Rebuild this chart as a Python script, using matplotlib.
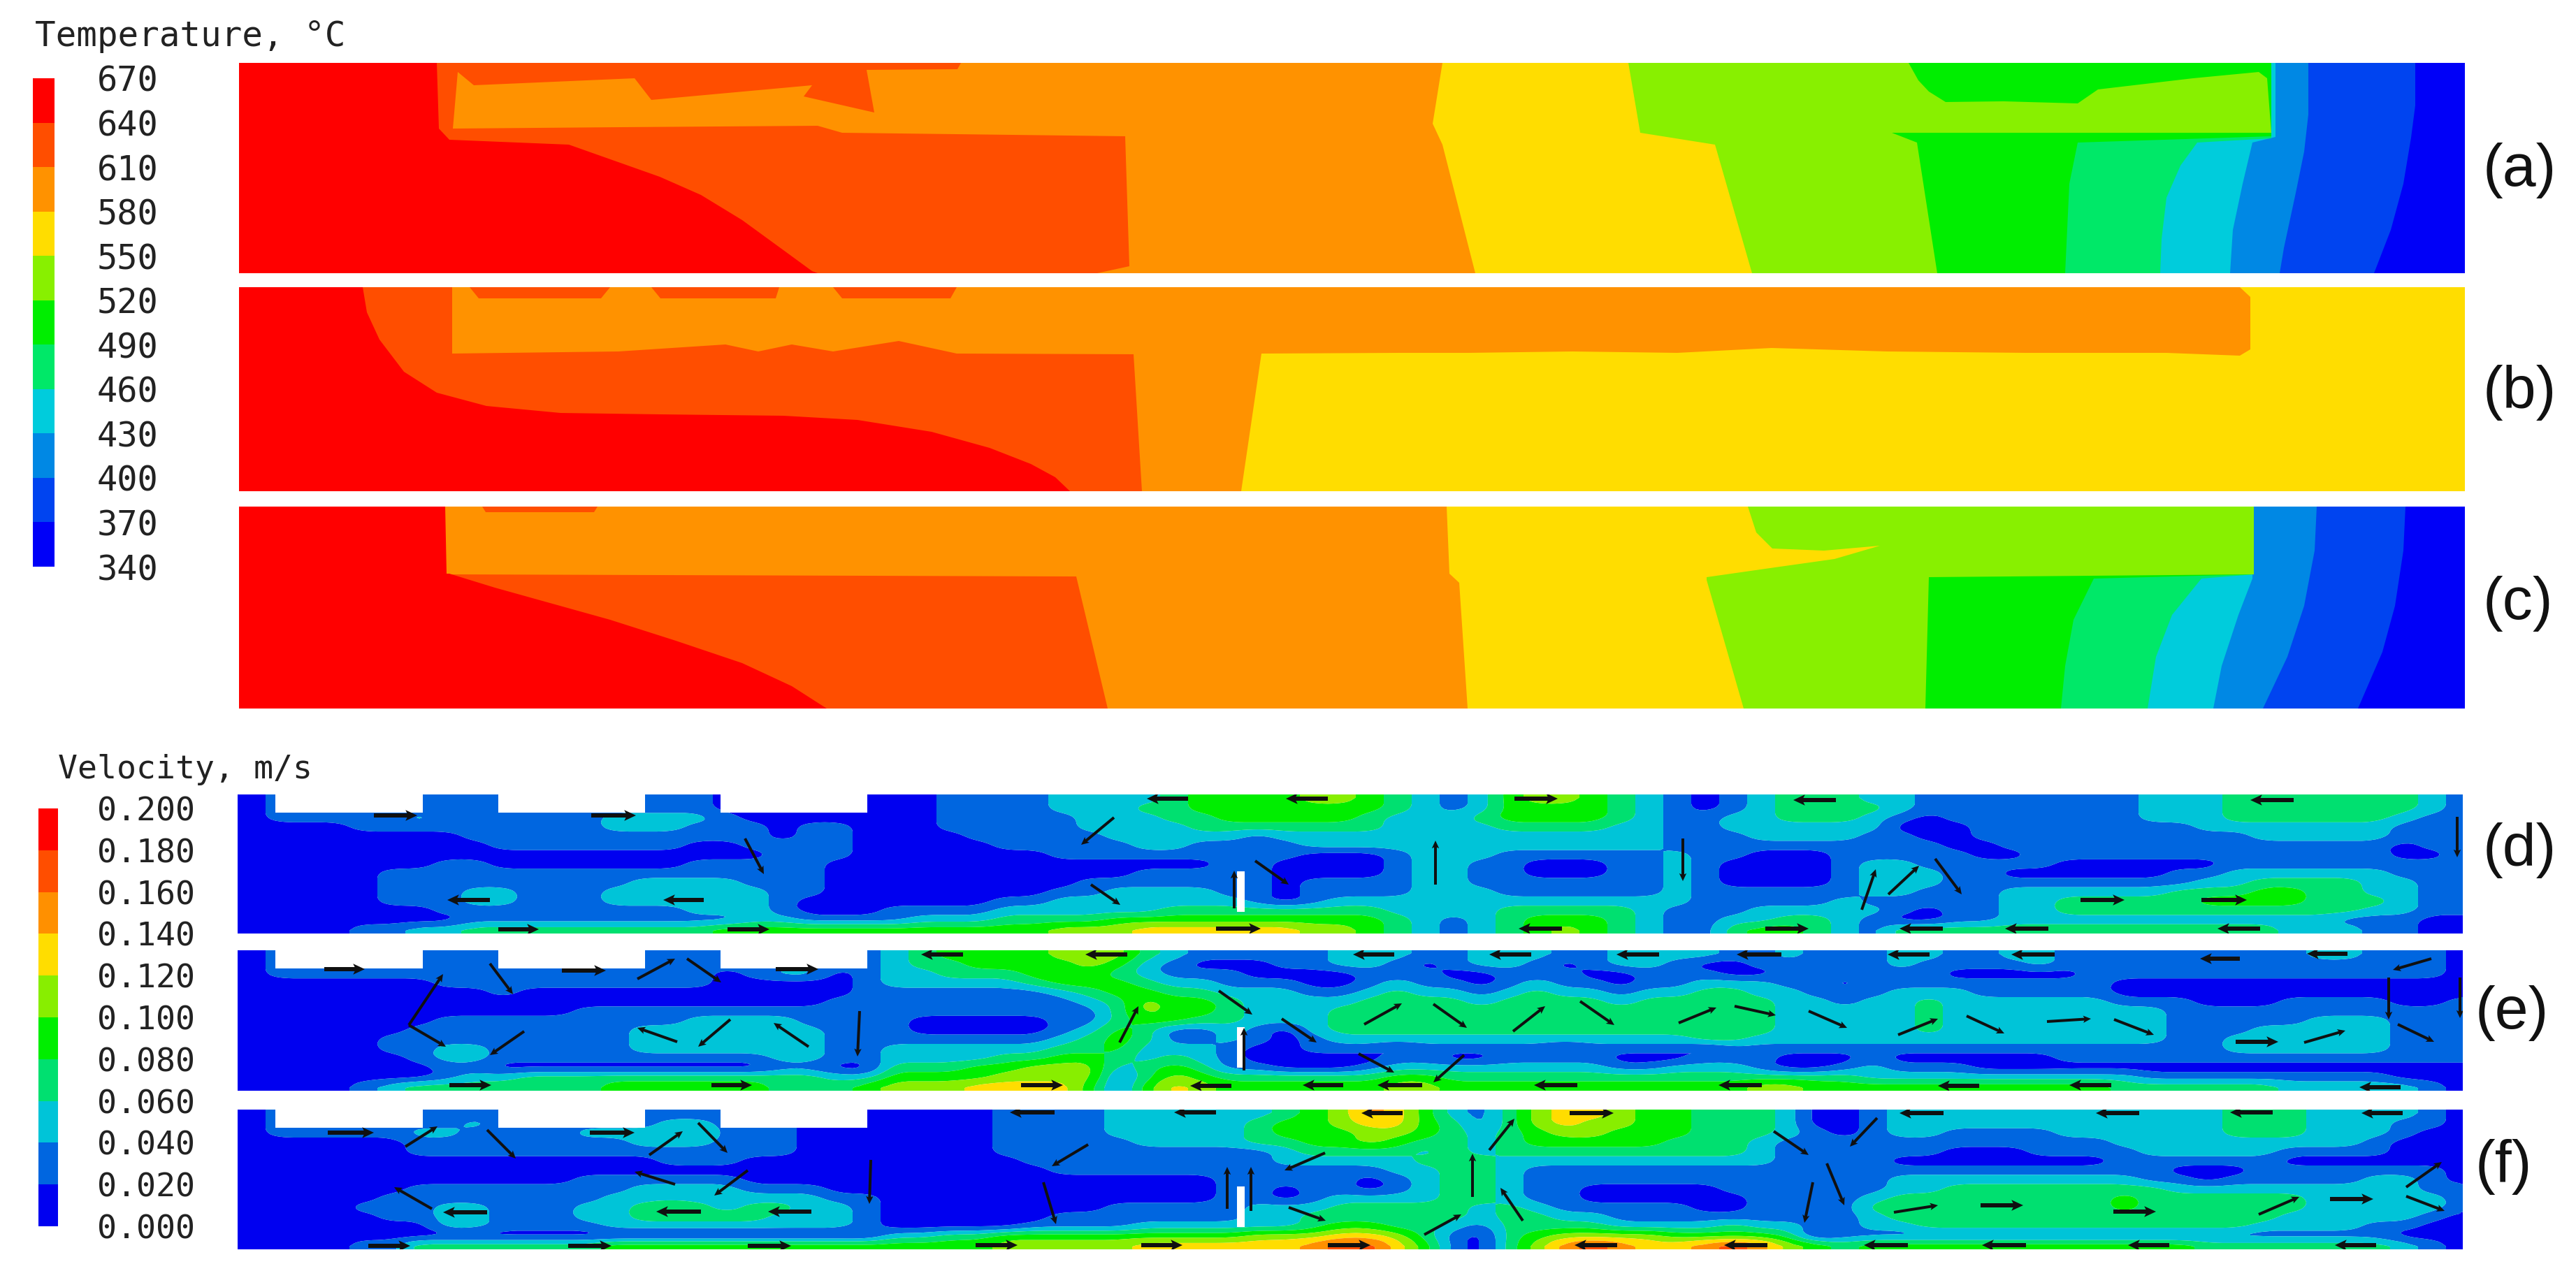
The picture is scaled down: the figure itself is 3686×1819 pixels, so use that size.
import numpy as np
import matplotlib
matplotlib.use("Agg")
import matplotlib.pyplot as plt

W, H = 3686, 1819

temp_ticks = [670, 640, 610, 580, 550, 520, 490, 460, 430, 400, 370, 340]
speed_ticks = ["0.200", "0.180", "0.160", "0.140", "0.120", "0.100", "0.080", "0.060", "0.040", "0.020", "0.000"]

# coolest band first
temp_colors = ["#0000f8", "#0044f0", "#0088e4", "#00ccdc", "#00e868", "#00ee00",
               "#88f000", "#ffdd00", "#ff9200", "#ff4e00", "#ff0000"]
speed_colors = ["#0000f0", "#0066e0", "#00c4d8", "#00e070", "#00ee00",
                "#88ee00", "#ffdd00", "#ff9000", "#ff4e00", "#ff0000"]

# temperature bands: (band index, outline, source pixels)
regions_a = [
    (1, [(342, 90), (3456, 90), (3456, 151), (3450, 197), (3439, 263), (3421, 329), (3397, 391), (342, 391)]),
    (2, [(342, 90), (3303, 90), (3303, 164), (3297, 217), (3285, 276), (3268, 355), (3262, 391), (342, 391)]),
    (3, [(342, 90), (3256, 90), (3256, 196), (3223, 204), (3209, 263), (3195, 329), (3191, 391), (342, 391)]),
    (4, [(342, 90), (3250, 90), (3250, 198), (3144, 204), (3120, 237), (3100, 283), (3093, 342), (3091, 391), (342, 391)]),
    (5, [(342, 90), (3250, 90), (3250, 195), (2973, 204), (2961, 263), (2955, 391), (342, 391)]),
    (6, [(342, 90), (2731, 90), (2745, 115), (2760, 131), (2784, 146), (2867, 145), (2973, 148), (3002, 128),
         (3138, 112), (3232, 103), (3244, 112), (3250, 190), (2707, 190), (2743, 204), (2772, 391), (342, 391)]),
    (7, [(342, 90), (2330, 90), (2347, 190), (2454, 207), (2507, 391), (342, 391)]),
    (8, [(342, 90), (2064, 90), (2050, 177), (2064, 207), (2111, 391), (342, 391)]),
    (9, [(342, 90), (1375, 90), (1370, 99), (1240, 100), (1251, 161), (1150, 138), (1162, 122), (932, 143),
         (908, 112), (678, 122), (655, 103), (648, 184), (890, 182), (1170, 180), (1205, 190), (1610, 195),
         (1616, 381), (1570, 391), (342, 391)]),
    (10, [(342, 90), (625, 90), (628, 184), (643, 200), (814, 207), (879, 230), (944, 253), (1003, 279),
          (1062, 315), (1121, 358), (1162, 388), (1170, 391), (342, 391)]),
]
regions_b = [
    (7, [(342, 411), (3527, 411), (3527, 703), (342, 703)]),
    (8, [(342, 411), (3205, 411), (3220, 425), (3220, 500), (3205, 509), (3100, 505), (2900, 505), (2700, 503),
         (2535, 498), (2400, 505), (2250, 503), (2100, 505), (2000, 505), (1805, 506), (1776, 703), (342, 703)]),
    (9, [(342, 411), (647, 411), (647, 506), (885, 503), (1038, 493), (1085, 503), (1133, 493), (1192, 503),
         (1286, 488), (1369, 506), (1622, 507), (1634, 703), (342, 703)]),
    (9, [(672, 411), (873, 411), (860, 427), (685, 427)]),
    (9, [(932, 411), (1115, 411), (1110, 427), (945, 427)]),
    (9, [(1192, 411), (1369, 411), (1360, 427), (1205, 427)]),
    (10, [(342, 411), (519, 411), (525, 447), (543, 486), (578, 532), (625, 562), (696, 581), (802, 591), (944, 593),
          (1121, 595), (1227, 601), (1333, 618), (1416, 641), (1475, 664), (1510, 683), (1531, 703), (342, 703)]),
]
regions_c = [
    (1, [(342, 725), (3442, 725), (3439, 788), (3427, 867), (3409, 933), (3374, 1014), (342, 1014)]),
    (2, [(342, 725), (3315, 725), (3312, 788), (3297, 867), (3273, 940), (3238, 1014), (342, 1014)]),
    (3, [(342, 725), (3225, 725), (3223, 828), (3203, 880), (3179, 953), (3167, 1014), (342, 1014)]),
    (4, [(342, 725), (3225, 725), (3225, 822), (3150, 828), (3108, 880), (3085, 940), (3073, 1014), (342, 1014)]),
    (5, [(342, 725), (3225, 725), (3225, 822), (2996, 828), (2967, 887), (2955, 953), (2949, 1014), (342, 1014)]),
    (6, [(342, 725), (3225, 725), (3225, 822), (2760, 826), (2755, 1014), (342, 1014)]),
    (7, [(342, 725), (2501, 725), (2513, 762), (2536, 785), (2610, 788), (2690, 781), (2625, 800), (2540, 812),
         (2442, 826), (2442, 830), (2495, 1014), (342, 1014)]),
    (8, [(342, 725), (2070, 725), (2074, 821), (2088, 834), (2100, 1014), (342, 1014)]),
    (9, [(342, 821), (1540, 825), (1585, 1014), (342, 1014)]),
    (9, [(690, 725), (855, 725), (850, 733), (695, 733)]),
    (10, [(342, 725), (637, 725), (639, 821), (643, 821), (708, 841), (873, 887), (967, 917), (1062, 949),
          (1133, 982), (1183, 1014), (342, 1014)]),
]

# velocity band index per cell, top row first, 40 source pixels per column
speed_d = [
    "0111111111 1111111000 0000011112 2223444455 4321245543 2101233322 1111111122 2333333321",
    "0111111111 1111111000 0000011112 2233444444 4321244443 2101233332 1111111122 2333333321",
    "0111112111 1112222100 0000011111 2223344444 3222344443 2112233321 0111111122 2333333211",
    "0000111111 1112221110 1100011111 2222333333 3222233332 2112222220 0011111111 2222222111",
    "0000000011 1111111110 1100001111 1222221222 2222222222 2111222211 0011111111 1122222111",
    "0000000001 1111110011 1100000111 1122111122 2222222222 2111111111 1001111111 1111111011",
    "0000000000 0000000001 1100000001 1111111100 0122211111 1211000111 1100111111 1111111001",
    "0000000110 0000001111 1000000000 0000011000 0122110001 1210000122 1111100000 0111111111",
    "0000011111 1111111111 1000000000 0011111000 0122110001 1210000122 2110000001 1222222111",
    "0000011111 1111222211 1000000000 1111111011 1122111111 1210000122 2111111111 2233332211",
    "0000011122 1112222221 1000000001 1222211011 1122211111 1211111122 1112222223 3344332211",
    "0000011122 1112222221 0000000112 2222221012 2222222222 2211111211 1112233333 4444333211",
    "0000000111 1111112221 0001111222 2223333333 3222233333 2111222221 0112233333 3333332211",
    "0000000011 1111111122 1111222333 3444444444 4321234443 2112233210 0112222222 2222211100",
    "0000112233 3333333444 4444444445 5566666655 4321234543 2113443213 3333333333 3332221100",
]
speed_e = [
    "0111111111 1111111111 1112344445 5532111112 2211222112 2221121112 2112211111 1111221110",
    "0111111111 1111111111 1112334444 5421000112 2101221012 2100111112 1111211111 1111111110",
    "0111111111 1111111012 2012233344 4321110000 1110011100 1110011111 1000001111 1111111110",
    "0000000111 1111111000 0012222234 4432211100 1211012110 1122211011 1111111000 0000000000",
    "0000000001 0000000000 0011111112 3443322211 2322123221 2233221112 2211111000 0000000000",
    "0000000000 0000000000 0111111111 2354432222 3333233332 3333322122 3222222111 0001111001",
    "0000000000 0011111111 1111111111 1354432223 3333333333 3333322222 3222222221 1111111111",
    "0000000111 1111112222 1011000001 1344332223 3333333333 3333322222 3222222221 1111222111",
    "0000001111 1111222222 2111000001 2431121023 3333333333 3333322222 3222222221 1122222111",
    "0000011111 1111222222 2111111112 3431121012 2222222222 2233222222 2222222221 1222222111",
    "0000011221 1111222222 2112222223 3422210011 1011111011 1101111111 1111111111 1222222111",
    "0000001221 1111111112 2112222334 4323210000 0110011110 0011100010 0000011111 1111111111",
    "0000000110 0000000001 1003334455 5234311000 1222222221 1222100121 1100000000 0000000000",
    "0000000122 3333333333 3224444555 5135433333 3443333333 3333333322 2222222211 1111111000",
    "0000123333 3334444443 3345556666 4146544444 4554444444 4444554444 4444444333 3332222210",
]
speed_f = [
    "0111111111 1111111111 0000000111 1222222345 7642135665 4433320012 2222222222 2333222210",
    "0111111121 1111122111 0000000111 1222223445 6643135655 4433320012 2222222222 2333222110",
    "0111112211 1122223111 0000000111 1222223444 5543234554 4433321012 2111122222 2333222100",
    "0000001111 1111222111 0000000111 1122223344 5433234444 4333211111 1111111222 2222221000",
    "0000001111 1111111111 0000000111 1111111233 3323233333 3333211111 1000111122 2221111000",
    "0000000000 0000011100 0000000011 1111111222 2233322222 2222211110 0000000111 1110000000",
    "0000000000 0000000000 0000000001 1111111111 1223321111 1111111111 1111111110 0011111110",
    "0000000000 0011111100 0000000000 0000011111 0123321111 1111111112 2222222211 0111112210",
    "0000001111 1111222211 1000000000 0000011011 0123321100 0001111112 2333333332 2222222211",
    "0000011111 1112222222 2110000000 0000011012 2223321100 0000111123 3333333433 3333222221",
    "0000111221 1122343233 2210000000 0111112223 3333232111 1100111133 3333333433 3333222221",
    "0000011221 1122333332 2210000001 1111112233 3333233221 1111111123 3333333333 3332222210",
    "0000000221 1112222222 2210000011 1122222234 4332133332 2223221122 3333333333 3322221100",
    "0000000000 0000000000 0002233444 4444445556 6531034555 5444430111 1111111111 1111111000",
    "0000113333 3334444444 4444444555 5566666678 8641035787 6678754344 4444444444 3333333210",
]

# arrows as (tail x, tail y, head x, head y) in source pixels
arrows_d = [
    (535, 1167, 597, 1167), (846, 1167, 910, 1167), (1066, 1200, 1093, 1251), (701, 1288, 640, 1288),
    (1007, 1288, 949, 1288), (713, 1330, 771, 1330), (1041, 1330, 1101, 1330), (1700, 1143, 1641, 1143),
    (1900, 1143, 1840, 1143), (2167, 1143, 2229, 1143), (1594, 1170, 1547, 1209), (1766, 1300, 1766, 1246),
    (1796, 1232, 1844, 1266), (1561, 1266, 1603, 1295), (2054, 1266, 2054, 1203), (2408, 1200, 2408, 1261),
    (1740, 1329, 1804, 1329), (2235, 1329, 2173, 1329), (2627, 1145, 2566, 1145), (3282, 1145, 3220, 1145),
    (3516, 1169, 3516, 1227), (2664, 1302, 2684, 1244), (2702, 1280, 2746, 1239), (2769, 1229, 2807, 1280),
    (2977, 1288, 3040, 1288), (3150, 1288, 3215, 1288), (2526, 1329, 2588, 1329), (2780, 1329, 2718, 1329),
    (2931, 1329, 2869, 1329), (3234, 1329, 3173, 1329),
]
arrows_e = [
    (464, 1387, 522, 1387), (804, 1389, 867, 1389), (1110, 1387, 1171, 1387), (585, 1467, 634, 1394),
    (701, 1379, 734, 1423), (585, 1467, 638, 1498), (750, 1476, 701, 1510), (912, 1401, 966, 1372),
    (983, 1372, 1032, 1406), (969, 1491, 912, 1471), (1045, 1459, 999, 1498), (1157, 1498, 1107, 1464),
    (1230, 1447, 1227, 1512), (643, 1553, 703, 1553), (1018, 1553, 1076, 1553), (1378, 1366, 1318, 1366),
    (1613, 1366, 1553, 1366), (1995, 1366, 1936, 1366), (2191, 1366, 2131, 1366), (2374, 1366, 2313, 1366),
    (1602, 1492, 1629, 1440), (1744, 1418, 1792, 1452), (1834, 1458, 1884, 1492), (1780, 1532, 1780, 1471),
    (1952, 1466, 2006, 1436), (2051, 1437, 2099, 1471), (2165, 1476, 2211, 1440), (2261, 1433, 2310, 1467),
    (2402, 1464, 2456, 1442), (1944, 1508, 1995, 1535), (2095, 1510, 2051, 1549), (1461, 1553, 1521, 1553),
    (1762, 1554, 1703, 1554), (1922, 1553, 1864, 1553), (2035, 1553, 1971, 1553), (2257, 1553, 2195, 1553),
    (2549, 1366, 2485, 1366), (2761, 1366, 2701, 1366), (2940, 1366, 2878, 1366), (3205, 1372, 3148, 1372),
    (3359, 1365, 3301, 1365), (3479, 1372, 3424, 1388), (3418, 1399, 3418, 1459), (3520, 1399, 3520, 1457),
    (3431, 1466, 3483, 1491), (2482, 1440, 2541, 1453), (2588, 1447, 2643, 1471), (2716, 1481, 2773, 1458),
    (2814, 1454, 2868, 1479), (2929, 1462, 2992, 1458), (3025, 1459, 3082, 1481), (3199, 1491, 3260, 1491),
    (3297, 1492, 3356, 1475), (2521, 1553, 2459, 1553), (2832, 1554, 2773, 1554), (3021, 1553, 2961, 1553),
    (3435, 1556, 3376, 1556),
]
arrows_f = [
    (469, 1621, 535, 1621), (844, 1621, 908, 1621), (580, 1641, 626, 1612), (697, 1617, 738, 1658),
    (929, 1653, 977, 1619), (999, 1607, 1041, 1650), (966, 1695, 908, 1677), (1070, 1675, 1022, 1711),
    (1246, 1660, 1244, 1723), (618, 1730, 564, 1699), (697, 1735, 634, 1735), (1003, 1734, 939, 1734),
    (1161, 1734, 1099, 1734), (527, 1783, 587, 1783), (813, 1783, 875, 1783), (1070, 1783, 1132, 1783),
    (1509, 1592, 1445, 1592), (1740, 1592, 1680, 1592), (2007, 1593, 1948, 1593), (2246, 1593, 2309, 1593),
    (2131, 1646, 2167, 1601), (1557, 1638, 1505, 1669), (1896, 1650, 1838, 1675), (2107, 1713, 2107, 1651),
    (1756, 1730, 1756, 1670), (1790, 1733, 1790, 1670), (1493, 1692, 1511, 1752), (2179, 1747, 2147, 1700),
    (1844, 1728, 1897, 1747), (2038, 1767, 2091, 1738), (1396, 1782, 1456, 1782), (1633, 1782, 1692, 1782),
    (1900, 1782, 1961, 1782), (2314, 1782, 2253, 1782), (2529, 1782, 2467, 1782), (2781, 1593, 2718, 1593),
    (3061, 1593, 2999, 1593), (3252, 1592, 3191, 1592), (3438, 1593, 3379, 1593), (2686, 1600, 2647, 1641),
    (2538, 1619, 2588, 1653), (2614, 1665, 2639, 1725), (2594, 1692, 2582, 1750), (2710, 1735, 2773, 1725),
    (2834, 1725, 2895, 1725), (3024, 1734, 3085, 1734), (3232, 1738, 3290, 1713), (3334, 1716, 3396, 1716),
    (3443, 1699, 3494, 1663), (3443, 1712, 3498, 1733), (2730, 1782, 2667, 1782), (2899, 1782, 2836, 1782),
    (3104, 1782, 3045, 1782), (3400, 1782, 3341, 1782),
]

baffle_left = [394, 713, 1031]
baffle_right = [605, 923, 1241]

temp_panels = [("(a)", regions_a, 90, 391, 3553, 244), ("(b)", regions_b, 411, 703, 3553, 562),
               ("(c)", regions_c, 725, 1014, 3553, 864)]
speed_panels = [("(d)", speed_d, arrows_d, 1137, 1336, 3553, 1217),
                ("(e)", speed_e, arrows_e, 1360, 1561, 3542, 1450),
                ("(f)", speed_f, arrows_f, 1588, 1788, 3542, 1670)]


def axes_at(fig, x0, y0, x1, y1):
    ax = fig.add_axes([x0 / W, 1 - y1 / H, (x1 - x0) / W, (y1 - y0) / H])
    ax.set_xlim(x0, x1)
    ax.set_ylim(y1, y0)
    ax.axis("off")
    return ax


def parse_rows(rows):
    cells = []
    for row in rows:
        cells.append([int(c) for c in row.replace(" ", "")])
    return np.array(cells, dtype=float)


def soften(x, y, z, n=6, half=3):
    # finer grid and a short box filter, only so the band edges come out round
    xf = np.interp(np.arange((len(x) - 1) * n + 1) / n, np.arange(len(x)), x)
    yf = np.interp(np.arange((len(y) - 1) * n + 1) / n, np.arange(len(y)), y)
    zf = np.array([np.interp(xf, x, row) for row in z])
    zf = np.array([np.interp(yf, y, col) for col in zf.T]).T
    k = np.ones(2 * half + 1) / (2 * half + 1)
    zf = np.pad(zf, half, mode="edge")
    zf = np.apply_along_axis(lambda v: np.convolve(v, k, mode="same"), 0, zf)
    zf = np.apply_along_axis(lambda v: np.convolve(v, k, mode="same"), 1, zf)
    return xf, yf, zf[half:-half, half:-half]


fig = plt.figure(figsize=(W / 100, H / 100), dpi=100, facecolor="white")

# temperature panels
for label, regions, top, bottom, label_x, label_y in temp_panels:
    ax = axes_at(fig, 342, top, 3527, bottom)
    ax.set_facecolor(temp_colors[0])
    ax.axis("on")
    ax.set_xticks([])
    ax.set_yticks([])
    for s in ax.spines.values():
        s.set_visible(False)
    for band, outline in regions:
        xs, ys = zip(*outline)
        ax.fill(xs, ys, color=temp_colors[band], lw=0)
    fig.text(label_x / W, 1 - label_y / H, label, family="Liberation Sans", fontsize=62,
             ha="left", va="center", color="#111111")

# velocity panels
for label, rows, arrows, top, bottom, label_x, label_y in speed_panels:
    ax = axes_at(fig, 340, top, 3524, bottom)
    z = parse_rows(rows)
    z = np.pad(z, 1, mode="edge")
    n_rows = len(rows)
    x = np.concatenate([[340], 360 + 40 * np.arange(z.shape[1] - 2), [3524]])
    y = np.concatenate([[top], top + (bottom - top) * (np.arange(n_rows) + 0.5) / n_rows, [bottom]])
    xf, yf, zf = soften(x, y, z)
    ax.contourf(xf, yf, zf, levels=np.arange(-0.5, 10.5), colors=speed_colors, antialiased=True)
    ax.set_xlim(340, 3524)
    ax.set_ylim(bottom, top)
    for left, right in zip(baffle_left, baffle_right):
        ax.bar(left, 26, width=right - left, bottom=top, align="edge", color="white", lw=0, zorder=3)
    ax.bar(1770, 58, width=11, bottom=top + 110, align="edge", color="white", lw=0, zorder=3)
    a = np.array(arrows, dtype=float)
    flat = a[:, 1] == a[:, 3]
    for part, wid in ((a[flat], 6.0), (a[~flat], 4.0)):
        ax.quiver(part[:, 0], part[:, 1], part[:, 2] - part[:, 0], part[:, 3] - part[:, 1], angles="xy",
                  scale_units="xy", scale=1, units="dots", width=wid, headwidth=2.6, headlength=2.8,
                  headaxislength=2.4, color="#101010", zorder=4)
    fig.text(label_x / W, 1 - label_y / H, label, family="Liberation Sans", fontsize=62,
             ha="left", va="center", color="#111111")

# colour bars
bar = fig.add_axes([47 / W, 1 - 811 / H, 31 / W, (811 - 112) / H])
for i, c in enumerate(temp_colors):
    bar.bar(0, 30, width=1, bottom=340 + 30 * i, color=c, lw=0)
bar.set_xlim(-0.5, 0.5)
bar.set_ylim(340, 670)
bar.set_xticks([])
bar.yaxis.tick_right()
bar.set_yticks(temp_ticks, [str(t) for t in temp_ticks], family="DejaVu Sans Mono", fontsize=35, color="#222222")
bar.tick_params(axis="y", length=0, pad=44)
for s in bar.spines.values():
    s.set_visible(False)
fig.text(50 / W, 1 - 52 / H, "Temperature, °C", family="DejaVu Sans Mono", fontsize=35.5,
         ha="left", va="center", color="#222222")

bar = fig.add_axes([55 / W, 1 - 1755 / H, 28 / W, (1755 - 1157) / H])
for i, c in enumerate(speed_colors):
    bar.bar(0, 0.02, width=1, bottom=0.02 * i, color=c, lw=0)
bar.set_xlim(-0.5, 0.5)
bar.set_ylim(0, 0.2)
bar.set_xticks([])
bar.yaxis.tick_right()
bar.set_yticks([float(t) for t in speed_ticks], speed_ticks, family="DejaVu Sans Mono", fontsize=33.5, color="#222222")
bar.tick_params(axis="y", length=0, pad=40)
for s in bar.spines.values():
    s.set_visible(False)
fig.text(83 / W, 1 - 1101 / H, "Velocity, m/s", family="DejaVu Sans Mono", fontsize=33.5,
         ha="left", va="center", color="#222222")

fig.savefig("out.png", dpi=100)
